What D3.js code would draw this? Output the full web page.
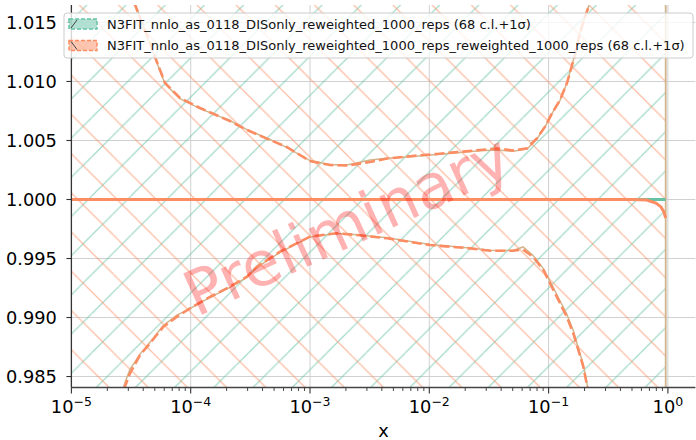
<!DOCTYPE html>
<html lang="en">
<head>
<meta charset="UTF-8">
<title>PDF ratio</title>
<script src="https://d3js.org/d3.v7.min.js"></script>
<style>
    body { margin: 0; background: #fff; }
    svg { display: block; font-family: "DejaVu Sans", sans-serif; }
</style>
</head>
<body>
<script>
    // log10(x) sample points
    const upperLogX = [-4.52, -4.467, -4.383, -4.299, -4.215, -4.09, -3.922, -3.671, -3.528, -3.335, -3.196, -3.001, -2.832, -2.681, -2.497, -2.354, -2.137, -1.935, -1.575, -1.432, -1.298, -1.181, -1.097, -1.03, -0.971, -0.904, -0.846, -0.779, -0.737, -0.695, -0.653, -0.62];
    const upperDash = [1.0178, 1.0165, 1.01436, 1.01208, 1.00987, 1.0086, 1.00775, 1.00665, 1.00589, 1.00504, 1.00445, 1.00326, 1.00292, 1.00288, 1.00318, 1.00347, 1.00369, 1.00386, 1.00419, 1.00432, 1.00415, 1.00434, 1.00519, 1.00617, 1.00731, 1.00843, 1.00987, 1.01225, 1.01411, 1.01547, 1.01665, 1.0185];
    const upperSolid = [1.0178, 1.0166, 1.0143, 1.0120, 1.0098, 1.00855, 1.0077, 1.00668, 1.00592, 1.00508, 1.00442, 1.0033, 1.00295, 1.00295, 1.00335, 1.0035, 1.00365, 1.00382, 1.00412, 1.0042, 1.00408, 1.00428, 1.00515, 1.00615, 1.0073, 1.0084, 1.0099, 1.0123, 1.0141, 1.0155, 1.0167, 1.0185];

    const lowerLogX = [-4.6, -4.551, -4.509, -4.425, -4.341, -4.232, -4.115, -4.006, -3.838, -3.671, -3.528, -3.444, -3.251, -3.001, -2.774, -2.606, -2.354, -1.994, -1.659, -1.491, -1.298, -1.214, -1.13, -1.044, -0.974, -0.904, -0.848, -0.793, -0.751, -0.709, -0.676, -0.65];
    const lowerDash = [0.9828, 0.98414, 0.98527, 0.98682, 0.98781, 0.98919, 0.99007, 0.99078, 0.99174, 0.99261, 0.99346, 0.99431, 0.99558, 0.99685, 0.99714, 0.99699, 0.99671, 0.99614, 0.99586, 0.99566, 0.99566, 0.99575, 0.99515, 0.99403, 0.99261, 0.9912, 0.99007, 0.98866, 0.98725, 0.98583, 0.98414, 0.9828];
    const lowerSolid = [0.9828, 0.9845, 0.9856, 0.9869, 0.9879, 0.9893, 0.9902, 0.99075, 0.9917, 0.99255, 0.99342, 0.99425, 0.99552, 0.99682, 0.99712, 0.99702, 0.99676, 0.99618, 0.9959, 0.9957, 0.99568, 0.99598, 0.99525, 0.99415, 0.9928, 0.9914, 0.9903, 0.9889, 0.9874, 0.9860, 0.9843, 0.9828];

    // band edges leave the view and fall vertically at the last grid point
    const edgeTailLogX = [-0.5, -0.3, -0.1, -0.019, -0.019];
    const upperTail = [1.03, 1.06, 1.12, 1.2, 0.9];
    const lowerTail = [0.97, 0.94, 0.88, 0.8, 1.1];

    const centralLogX = [-5, -1, -0.5, -0.3, -0.178, -0.1, -0.058, -0.033, -0.019];
    const centralRef = [1, 1, 1, 1, 1, 1, 1, 1, 1];
    const centralRew = [1, 1, 1, 0.99999, 0.99996, 0.9997, 0.99937, 0.99894, 0.99843];

    const hatchLogX = [-5, -0.019];
    const hatchLo = 0.95, hatchHi = 1.05;

    const yTicks = [0.985, 0.990, 0.995, 1.000, 1.005, 1.010, 1.015];
    const xTickExp = [-5, -4, -3, -2, -1, 0];

    const labels = [
        "N3FIT_nnlo_as_0118_DISonly_reweighted_1000_reps (68 c.l.+1σ)",
        "N3FIT_nnlo_as_0118_DISonly_reweighted_1000_reps_reweighted_1000_reps (68 c.l.+1σ)"
    ];
    const green = "#66c2a5", orange = "#fc8d62", tan = "#d2b48c";

    const W = 696, H = 440;
    const mLeft = 71.4, mRight = 695.4, mTop = 5, mBottom = 387.5;

    const x = d3.scaleLog().domain([1e-5, Math.pow(10, 0.2305)]).range([mLeft, mRight]);
    const y = d3.scaleLinear().domain([0.98407, 1.01648]).range([mBottom, mTop]);

    const svg = d3.select("body").append("svg")
        .attr("width", W).attr("height", H);
    const defs = svg.append("defs");

    // hatch patterns (matplotlib style '/' and '\')
    const hs = 39.2;
    function hatch(id, color, dir, off) {
        const p = defs.append("pattern").attr("id", id)
            .attr("patternUnits", "userSpaceOnUse")
            .attr("width", hs).attr("height", hs);
        for (let k = -1; k <= 2; k++) {
            const c = off + k * hs;
            const d = dir === "/" ? `M${c},0L${c - hs},${hs}` : `M${-off + k * hs},0L${-off + k * hs + hs},${hs}`;
            p.append("path").attr("d", d)
                .attr("stroke", color).attr("stroke-opacity", 0.6)
                .attr("stroke-width", 1.3).attr("fill", "none");
        }
    }
    hatch("hGreen", green, "/", 13.4);
    hatch("hOrange", orange, "\\", 4);

    defs.append("clipPath").attr("id", "plotClip").append("rect")
        .attr("x", mLeft).attr("y", mTop).attr("width", mRight - mLeft).attr("height", mBottom - mTop);

    // grid
    const grid = svg.append("g").attr("stroke", "#d0d0d0").attr("stroke-width", 1);
    yTicks.forEach(t => grid.append("line")
        .attr("x1", mLeft).attr("x2", mRight).attr("y1", y(t)).attr("y2", y(t)));
    xTickExp.forEach(e => grid.append("line")
        .attr("x1", x(Math.pow(10, e))).attr("x2", x(Math.pow(10, e))).attr("y1", mTop).attr("y2", mBottom));

    const plot = svg.append("g").attr("clip-path", "url(#plotClip)");

    const band = d3.area()
        .x(d => x(Math.pow(10, d)))
        .y0(y(hatchLo)).y1(y(hatchHi));
    plot.append("path").datum(hatchLogX).attr("d", band).attr("fill", "url(#hGreen)");
    plot.append("path").datum(hatchLogX).attr("d", band).attr("fill", "url(#hOrange)");

    const line = d3.line().x(d => x(Math.pow(10, d[0]))).y(d => y(d[1]));
    const zip = (a, b) => a.map((v, i) => [v, b[i]]);

    // solid edges
    [zip(upperLogX.concat(edgeTailLogX), upperSolid.concat(upperTail)),
     zip(lowerLogX.concat(edgeTailLogX), lowerSolid.concat(lowerTail))].forEach(d =>
        plot.append("path").datum(d).attr("d", line)
            .attr("fill", "none").attr("stroke", tan).attr("stroke-width", 1.5));

    // central values
    plot.append("path").datum(zip(centralLogX, centralRef)).attr("d", line)
        .attr("fill", "none").attr("stroke", green).attr("stroke-width", 3);
    plot.append("path").datum(zip(centralLogX, centralRew)).attr("d", line)
        .attr("fill", "none").attr("stroke", orange).attr("stroke-width", 3);

    // dashed 1 sigma
    [zip(upperLogX, upperDash), zip(lowerLogX, lowerDash)].forEach(d =>
        plot.append("path").datum(d).attr("d", line)
            .attr("fill", "none").attr("stroke", orange).attr("stroke-width", 2.6)
            .attr("stroke-dasharray", "10,4"));

    // axes
    const ax = svg.append("g").attr("fill", "#000");
    ax.append("line").attr("x1", mLeft).attr("x2", mLeft).attr("y1", mTop).attr("y2", mBottom)
        .attr("stroke", "#333").attr("stroke-width", 1.3);
    ax.append("line").attr("x1", mLeft).attr("x2", mRight).attr("y1", mBottom).attr("y2", mBottom)
        .attr("stroke", "#444").attr("stroke-width", 1.6);

    yTicks.forEach(t => {
        ax.append("line").attr("x1", mLeft - 5).attr("x2", mLeft).attr("y1", y(t)).attr("y2", y(t))
            .attr("stroke", "#333").attr("stroke-width", 1.1);
        ax.append("text").attr("x", mLeft - 14.5).attr("y", y(t))
            .attr("text-anchor", "end").attr("dominant-baseline", "central")
            .attr("font-size", 17.8).text(d3.format(".3f")(t));
    });

    const minor = [];
    for (let e = -5; e < 1; e++) for (let m = 2; m < 10; m++) {
        const v = m * Math.pow(10, e);
        if (v <= x.domain()[1]) minor.push(v);
    }
    minor.forEach(v => ax.append("line").attr("x1", x(v)).attr("x2", x(v))
        .attr("y1", mBottom).attr("y2", mBottom + 3.5).attr("stroke", "#333").attr("stroke-width", 0.9));

    xTickExp.forEach(e => {
        const px = x(Math.pow(10, e));
        ax.append("line").attr("x1", px).attr("x2", px).attr("y1", mBottom).attr("y2", mBottom + 6)
            .attr("stroke", "#333").attr("stroke-width", 1.1);
        const t = ax.append("text").attr("x", px).attr("y", 413).attr("text-anchor", "middle")
            .attr("font-size", 17.8);
        t.append("tspan").text("10");
        t.append("tspan").attr("font-size", 12.5).attr("dy", -7.5)
            .text(e < 0 ? "\u2212" + (-e) : String(e));
    });

    ax.append("text").attr("x", (mLeft + mRight) / 2).attr("y", 437).attr("text-anchor", "middle")
        .attr("font-size", 17.8).text("x");

    // watermark
    svg.append("text").attr("transform", "translate(347,225) rotate(-24.5)")
        .attr("text-anchor", "middle").attr("dominant-baseline", "central")
        .attr("font-size", 62).attr("fill", "red").attr("fill-opacity", 0.3)
        .text("Preliminary");

    // legend
    const lg = svg.append("g");
    lg.append("rect").attr("x", 64).attr("y", 13).attr("width", 629).attr("height", 45)
        .attr("rx", 3).attr("fill", "#fff").attr("fill-opacity", 0.8)
        .attr("stroke", "#ccc").attr("stroke-width", 1);
    [[green, "/"], [orange, "\\"]].forEach(([c, h], i) => {
        const cy = 24 + i * 21.5;
        lg.append("rect").attr("x", 69).attr("y", cy - 5).attr("width", 28).attr("height", 10)
            .attr("fill", c).attr("fill-opacity", 0.5)
            .attr("stroke", c).attr("stroke-width", 1.5).attr("stroke-dasharray", "4,2");
        lg.append("line")
            .attr("x1", 71).attr("x2", 77)
            .attr("y1", h === "/" ? cy + 4 : cy - 4).attr("y2", h === "/" ? cy - 4 : cy + 4)
            .attr("stroke", "#444").attr("stroke-width", 1);
        lg.append("text").attr("x", 107).attr("y", cy).attr("dominant-baseline", "central")
            .attr("font-size", 13).attr("fill", "#111").text(labels[i]);
    });
</script>
</body>
</html>
